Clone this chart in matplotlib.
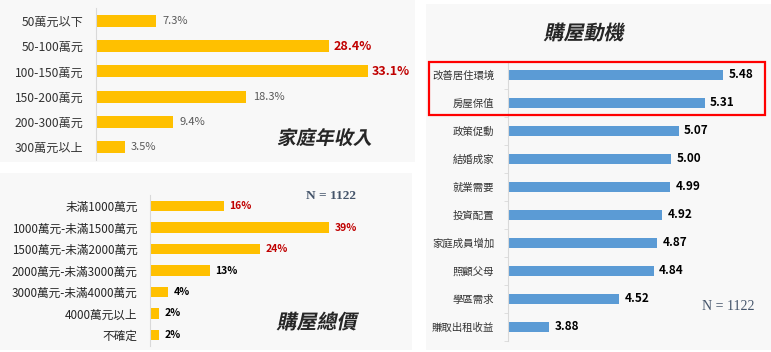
import matplotlib
matplotlib.use("Agg")
import matplotlib.pyplot as plt
from matplotlib.patches import Rectangle, PathPatch
from matplotlib.textpath import TextPath
from matplotlib.font_manager import FontProperties
from matplotlib.transforms import Affine2D

# ---- data ----
income_labels = ["50萬元以下", "50-100萬元", "100-150萬元", "150-200萬元", "200-300萬元", "300萬元以上"]
income_vals = [7.3, 28.4, 33.1, 18.3, 9.4, 3.5]
income_hl = [False, True, True, False, False, False]

price_labels = ["未滿1000萬元", "1000萬元-未滿1500萬元", "1500萬元-未滿2000萬元",
                "2000萬元-未滿3000萬元", "3000萬元-未滿4000萬元", "4000萬元以上", "不確定"]
price_vals = [16, 39, 24, 13, 4, 2, 2]
price_hl = [True, True, True, False, False, False, False]

motive_labels = ["改善居住環境", "房屋保值", "政策促動", "結婚成家", "就業需要",
                 "投資配置", "家庭成員增加", "照顧父母", "學區需求", "賺取出租收益"]
motive_vals = [5.48, 5.31, 5.07, 5.00, 4.99, 4.92, 4.87, 4.84, 4.52, 3.88]

# ---- style ----
CJK = ["Noto Sans CJK TC", "DejaVu Sans"]
plt.rcParams["font.family"] = CJK
YELLOW, BLUE, RED = "#ffc000", "#5b9bd5", "#c00000"
PANEL, AXIS, INK, GRAY, SLATE = "#f8f8f8", "#d9d9d9", "#262626", "#595959", "#44546a"

W, H = 771, 352
fig = plt.figure(figsize=(W / 100, H / 100), dpi=100, facecolor="white")
PX = Affine2D().scale(1 / W, 1 / H) + fig.transFigure


def box(x0, y0, x1, y1, **kw):
    fig.add_artist(Rectangle((x0, H - y1), x1 - x0, y1 - y0, transform=PX, **kw))


def axes_px(x0, y0, x1, y1):
    ax = fig.add_axes([x0 / W, 1 - y1 / H, (x1 - x0) / W, (y1 - y0) / H])
    ax.set_facecolor("none")
    for s in ("top", "right", "bottom"):
        ax.spines[s].set_visible(False)
    ax.spines["left"].set_color(AXIS)
    ax.set_xticks([])
    ax.tick_params(axis="y", length=0)
    return ax


def slanted(s, cx, cy, size):
    # bold CJK title with a fake italic slant
    fp = FontProperties(family="Noto Sans CJK TC", weight="bold")
    tp = TextPath((0, 0), s, size=size, prop=fp)
    bb = tp.get_extents()
    tr = (Affine2D().translate(-(bb.x0 + bb.x1) / 2, -(bb.y0 + bb.y1) / 2)
          .skew_deg(12, 0).translate(cx, H - cy))
    fig.add_artist(PathPatch(tr.transform_path(tp), fc=INK, ec="none", transform=PX, zorder=5))


# background panels (behind the axes)
box(0, 0, 415, 162, fc=PANEL, ec="none", zorder=-5)
box(0, 173, 412, 350, fc=PANEL, ec="none", zorder=-5)
box(426, 4, 771, 350, fc=PANEL, ec="none", zorder=-5)

# ---- 1) household income ----
ax = axes_px(96, 8.4, 405, 159.6)
y = range(len(income_vals))
bars = ax.barh(y, income_vals, height=0.48, color=YELLOW)
ax.set_ylim(len(income_vals) - 0.5, -0.5)
ax.set_xlim(0, 37.6)
ax.set_yticks(list(y), income_labels, fontsize=8.7, color="#333333")
ax.tick_params(axis="y", pad=9)
for b, v, hl in zip(bars, income_vals, income_hl):
    ax.annotate(f"{v:.1f}%", (v, b.get_y() + b.get_height() / 2), xytext=(3 if hl else 4.5, 0),
                textcoords="offset points", va="center",
                fontsize=9 if hl else 8, color=RED if hl else GRAY,
                fontweight="bold" if hl else "normal")
slanted("家庭年收入", 326, 137, 19)

# ---- 2) total price ----
ax = axes_px(150, 195.25, 405, 345.75)
y = range(len(price_vals))
bars = ax.barh(y, price_vals, height=0.51, color=YELLOW)
ax.set_ylim(len(price_vals) - 0.5, -0.5)
ax.set_xlim(0, 55.5)
ax.set_yticks(list(y), price_labels, fontsize=8.4, color=INK)
ax.tick_params(axis="y", pad=9)
for b, v, hl in zip(bars, price_vals, price_hl):
    ax.annotate(f"{v}%", (v, b.get_y() + b.get_height() / 2), xytext=(4, 0),
                textcoords="offset points", va="center", fontsize=7.5,
                color=RED if hl else "black", fontweight="bold")
fig.text(331 / W, 1 - 196 / H, "N = 1122", family="Liberation Serif", fontweight="bold",
         fontsize=9.6, color=SLATE, ha="center", va="center")
slanted("購屋總價", 318, 321, 20)

# ---- 3) purchase motivation ----
ax = axes_px(508, 61, 765, 341)
y = range(len(motive_vals))
bars = ax.barh(y, motive_vals, height=0.39, color=BLUE)
ax.set_ylim(len(motive_vals) - 0.5, -0.5)
ax.set_xlim(3.5, 5.866)
ax.set_yticks(list(y), motive_labels, fontsize=7.5, color="#333333")
ax.set_yticks([i - 0.5 for i in range(len(motive_vals) + 1)], minor=True)
ax.tick_params(axis="y", which="minor", length=3, color=AXIS)
ax.tick_params(axis="y", which="major", pad=10)
for b, v in zip(bars, motive_vals):
    ax.annotate(f"{v:.2f}", (v, b.get_y() + b.get_height() / 2), xytext=(4, 0),
                textcoords="offset points", va="center", fontsize=8.5,
                color="black", fontweight="bold")
fig.text(728 / W, 1 - 307 / H, "N = 1122", family="Liberation Serif",
         fontsize=10, color=SLATE, ha="center", va="center")
slanted("購屋動機", 585, 32, 20)

# highlight box around the top two motives
box(429, 62, 765, 115, fc="none", ec="#ff0000", lw=1.6, zorder=5)

fig.savefig("out.png", dpi=100, facecolor="white")
